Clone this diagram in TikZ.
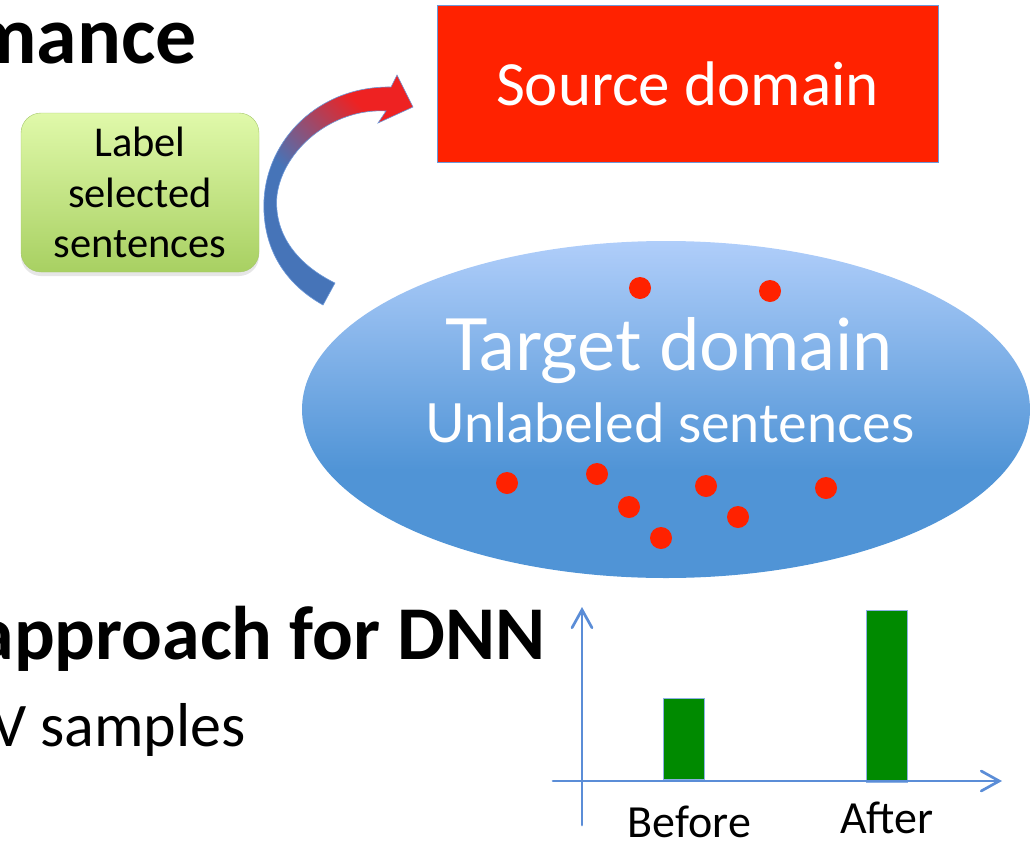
\documentclass[tikz,border=0pt]{standalone}
\usepackage{fontspec}
\setmainfont{Carlito}
\newfontfamily\gillfont{Lato}
\usetikzlibrary{arrows.meta,shapes.geometric,shadows}

\definecolor{srcred}{RGB}{255,34,0}
\definecolor{dotred}{RGB}{255,34,0}
\definecolor{edgeblue}{RGB}{108,152,216}
\definecolor{axisblue}{RGB}{91,141,215}
\definecolor{elltop}{RGB}{176,206,250}
\definecolor{ellbot}{RGB}{80,148,214}
\definecolor{greentop}{RGB}{224,249,170}
\definecolor{greenbot}{RGB}{168,208,98}
\definecolor{greenedge}{RGB}{166,200,110}
\definecolor{arrowblue}{RGB}{70,116,184}
\definecolor{arrowred}{RGB}{238,34,34}
\definecolor{bargreen}{RGB}{0,138,0}
\definecolor{barline}{RGB}{140,176,228}

\pgfdeclareverticalshading{targetshade}{100bp}{color(0bp)=(ellbot); color(41bp)=(ellbot); color(75bp)=(elltop); color(100bp)=(elltop)}
\pgfdeclareverticalshading{arrowshade}{100bp}{color(0bp)=(arrowblue); color(44bp)=(arrowblue); color(70bp)=(arrowred); color(100bp)=(arrowred)}

\tikzset{
  slidetext/.style={inner sep=0pt, text=black},
  labelbox/.style={draw=greenedge, rounded corners=20pt, top color=greentop, bottom color=greenbot,
    minimum width=238pt, minimum height=159pt, align=center, font=\fontsize{42.5}{50.5}\selectfont,
    drop shadow={opacity=0.2, shadow xshift=0pt, shadow yshift=-4pt}},
  srcbox/.style={draw=edgeblue, line width=1pt, fill=srcred, text=white, minimum width=501pt,
    minimum height=157pt, font=\fontsize{63}{75}\selectfont},
  targetell/.style={ellipse, shade, shading=targetshade, minimum width=728pt, minimum height=337pt, inner sep=0pt},
  elltext/.style={inner sep=0pt, text=white, anchor=base},
  arrowfill/.style={draw=edgeblue, line width=0.6pt, shading=arrowshade, shading angle=-45},
  axisline/.style={axisblue, line width=2.7pt, line cap=round,
    -{Straight Barb[length=18pt, width=20pt, line cap=round]}},
  barbox/.style={fill=bargreen, draw=barline, line width=1pt}
}

\begin{document}
\begin{tikzpicture}[x=1pt,y=-1pt]
  \useasboundingbox (0,0) rectangle (1031,841);

  % Slide text
  \node[slidetext, anchor=base east, font=\bfseries\fontsize{82}{98}\selectfont] (heading) at (197,63) {mance};
  \node[slidetext, anchor=base east, font=\bfseries\fontsize{76}{91}\selectfont] (approach) at (546,659) {approach for DNN};
  \node[slidetext, anchor=base east, font=\fontsize{62}{74}\selectfont] (samples) at (246,746) {V samples};

  % Label box
  \node[labelbox] (label) at (140,192.5) {Label\\selected\\sentences};

  % Source domain
  \node[srcbox] (source) at (687.5,83.5) {Source domain};

  % Curved arrow
  \shade[arrowfill] (323,305) .. controls (282,282) and (262,245) .. (264,200)
    .. controls (267,140) and (318,86) .. (391,87)
    -- (397,75) -- (413,107) -- (378,123) -- (386,111)
    .. controls (332,108) and (283,150) .. (277,195)
    .. controls (273,236) and (300,266) .. (335,283) -- cycle;

  % Target domain
  \node[targetell] (target) at (666,409.5) {};
  \node[elltext, font=\gillfont\fontsize{72}{80}\selectfont] (tgtname) at (669,370) {Target domain};
  \node[elltext, font=\gillfont\fontsize{54}{60}\selectfont] (unlabeled) at (670,442) {Unlabeled sentences};

  % Sentences
  \foreach \px/\py in {640/288,770/291,507/483,597/474,629/507,706/486,738/517,661/538,826/488}
    \fill[dotred] (\px,\py) circle (11pt);

  % Chart
  \coordinate (xstart) at (553,781);
  \coordinate (xend) at (1002,781);
  \coordinate (ybot) at (582,825);
  \coordinate (ytop) at (582,607);
  \draw[barbox] (663,698) rectangle (704,779);
  \draw[barbox] (866,610) rectangle (907,782);
  \draw[axisline] (xstart) -- (xend);
  \draw[axisline] (ybot) -- (ytop);
  \node[slidetext, anchor=base, font=\fontsize{46}{50}\selectfont] (before) at (689.5,837) {Before};
  \node[slidetext, anchor=base, font=\fontsize{46}{50}\selectfont] (after) at (887,833) {After};
\end{tikzpicture}
\end{document}
